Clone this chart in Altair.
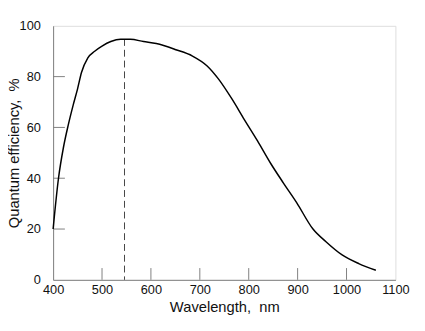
import altair as alt
import pandas as pd

# Curve values
wavelength = [400, 411, 421, 431, 441, 450, 458, 471, 485, 500, 518, 538, 558, 585, 611,
              651, 685, 715, 738, 765, 791, 818, 845, 871, 898, 931, 958, 991, 1025, 1060]
efficiency = [20, 40, 52, 61, 68.8, 75.2, 81.6, 87.4, 90.0, 92.0, 93.8, 94.7, 94.7, 93.8, 93.0,
              90.6, 88.1, 84.2, 79.1, 71.4, 63.1, 54.7, 45.8, 38.1, 30.4, 20.1, 15.0, 9.8, 6.4, 3.8]

peak_wl = [546]
peak_val = [94.8]

x_ticks = [400, 500, 600, 700, 800, 900, 1000, 1100]
y_ticks = [0, 20, 40, 60, 80, 100]
x_inner_ticks = [500, 600, 700, 800, 900, 1000]
y_inner_ticks = [20, 40, 60, 80]

FONT = "Liberation Sans"
GRAY = "#808080"

curve_df = pd.DataFrame({"wl": wavelength, "qe": efficiency})
peak_df = pd.DataFrame({"wl": peak_wl, "qe": peak_val})
xt_df = pd.DataFrame({"wl": x_inner_ticks})
yt_df = pd.DataFrame({"qe": y_inner_ticks})

xscale = alt.Scale(domain=[400, 1100], nice=False, zero=False)
yscale = alt.Scale(domain=[0, 100], nice=False)

xaxis = alt.Axis(values=x_ticks, ticks=False, grid=False, domainColor=GRAY, format="d",
                 labelFont=FONT, labelFontSize=13, labelColor="#111111", labelPadding=4,
                 title="Wavelength,\u00a0 nm", titleFont=FONT, titleFontSize=15,
                 titleFontWeight="normal", titleColor="#111111", titlePadding=3,
                 labelFlush=False)
yaxis = alt.Axis(values=y_ticks, ticks=False, grid=False, domainColor=GRAY, format="d",
                 labelFont=FONT, labelFontSize=13, labelColor="#111111", labelPadding=13,
                 title="Quantum efficiency,\u00a0 %", titleFont=FONT, titleFontSize=15,
                 titleFontWeight="normal", titleColor="#111111",
                 titleX=-40, titleY=129.5, titleAngle=270, titleAlign="center",
                 titleBaseline="middle", labelFlush=False)

line = alt.Chart(curve_df).mark_line(color="black", strokeWidth=1.5, interpolate="monotone").encode(
    x=alt.X("wl:Q", scale=xscale, axis=xaxis),
    y=alt.Y("qe:Q", scale=yscale, axis=yaxis),
)

peak = alt.Chart(peak_df).mark_rule(color="#444444", strokeWidth=1, strokeDash=[7, 4]).encode(
    x=alt.X("wl:Q", scale=xscale),
    y=alt.Y("qe:Q", scale=yscale),
    y2=alt.datum(0),
)

xticks = alt.Chart(xt_df).mark_rule(color=GRAY, strokeWidth=1).encode(
    x=alt.X("wl:Q", scale=xscale),
    y=alt.value(259),
    y2=alt.value(247),
)

yticks = alt.Chart(yt_df).mark_rule(color=GRAY, strokeWidth=1).encode(
    y=alt.Y("qe:Q", scale=yscale),
    x=alt.value(0),
    x2=alt.value(12),
)

chart = alt.layer(xticks, yticks, peak, line).properties(
    width=349,
    height=259,
    autosize=alt.AutoSizeParams(type="none"),
    padding={"left": 46, "top": 15, "right": 22, "bottom": 49},
).configure_view(stroke=GRAY, strokeWidth=1).configure(background="white")

chart.save("out.html", embed_options={"renderer": "svg", "actions": False})
